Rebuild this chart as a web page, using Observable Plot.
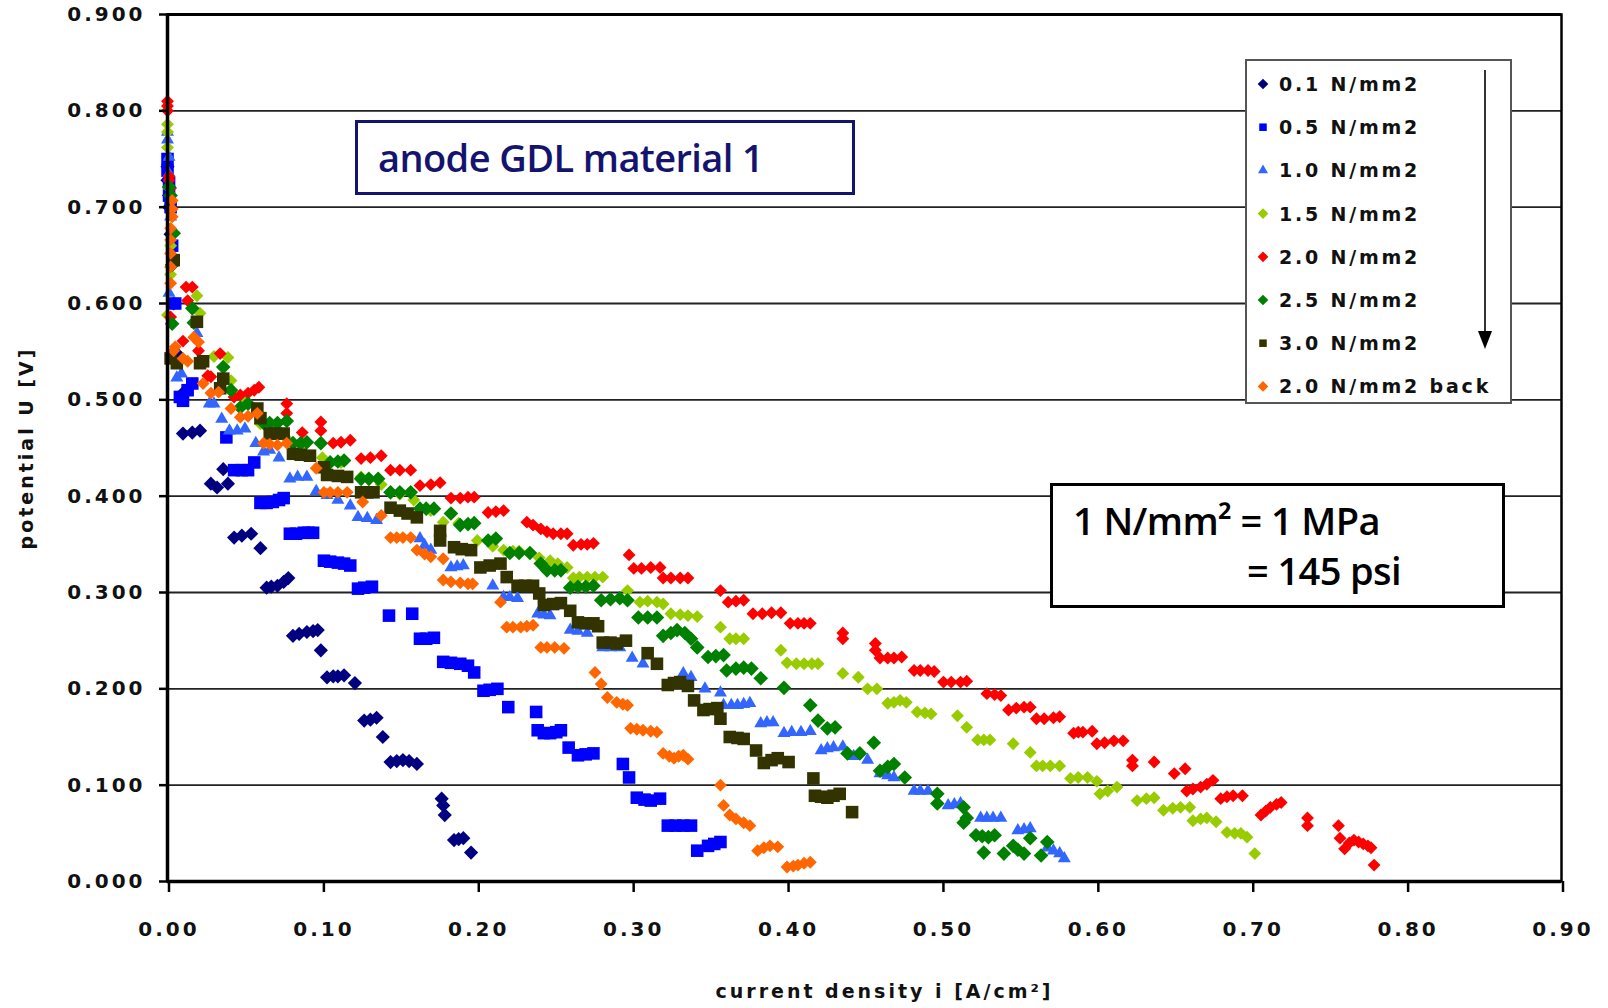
<!DOCTYPE html>
<html>
<head>
<meta charset="utf-8">
<script src="https://cdn.jsdelivr.net/npm/d3@7"></script>
<script src="https://cdn.jsdelivr.net/npm/@observablehq/plot@0.6"></script>
<style>
  html, body { margin: 0; padding: 0; background: #fff; }
  #wrap { position: relative; width: 1608px; height: 1008px; overflow: hidden; }
  #chart svg { display: block; }
  #chart g[aria-label="y-axis tick label"] text,
  #chart g[aria-label="x-axis tick label"] text {
    font-family: "DejaVu Sans", sans-serif; font-weight: bold; font-size: 20px; letter-spacing: 3px; fill: #111;
  }
  #chart .axtitle text { font-family: "DejaVu Sans", sans-serif; font-weight: bold; font-size: 19px; letter-spacing: 3px; fill: #111; }
  .box { position: absolute; box-sizing: border-box; background: #fff; }
  #titlebox { left: 355px; top: 120px; width: 500px; height: 75px; border: 3px solid #14146e; }
  #titlebox span { position: absolute; left: 20px; top: 12px; font-family: "Open Sans", sans-serif; font-weight: 600; font-size: 38px; line-height: 1.2; color: #14146e; white-space: nowrap; letter-spacing: -0.6px; }
  #unitbox { left: 1050px; top: 483px; width: 455px; height: 125px; border: 3px solid #000; }
  #unitbox span { position: absolute; font-family: "Open Sans", sans-serif; font-weight: 600; font-size: 38px; line-height: 1.2; color: #000; white-space: nowrap; letter-spacing: -0.6px; }
  #legend { left: 1245px; top: 59px; width: 267px; height: 345px; border: 2px solid #555; }
  #legend svg { position: absolute; left: -2px; top: -2px; }
  #legend text { font-family: "DejaVu Sans", sans-serif; font-weight: bold; font-size: 19px; letter-spacing: 2.8px; fill: #111; }
</style>
</head>
<body>
<div id="wrap">
  <div id="chart"></div>
  <div id="titlebox" class="box"><span>anode GDL material 1</span></div>
  <div id="unitbox" class="box"><span style="left:20px;top:12px">1 N/mm² = 1 MPa</span><span style="left:194px;top:62px">= 145 psi</span></div>
  <div id="legend" class="box"></div>
</div>
<script>
// ---- axis ticks ----
const xTicks = [0, 0.1, 0.2, 0.3, 0.4, 0.5, 0.6, 0.7, 0.8, 0.9];
const yTicks = [0, 0.1, 0.2, 0.3, 0.4, 0.5, 0.6, 0.7, 0.8, 0.9];

// ---- series (legend order) ----
const seriesNames = ["0.1 N/mm2", "0.5 N/mm2", "1.0 N/mm2", "1.5 N/mm2", "2.0 N/mm2", "2.5 N/mm2", "3.0 N/mm2", "2.0 N/mm2 back"];

// ---- values: [current density A/cm², potential V] ----
const p01 = [[0.000,0.742],[0.000,0.728],[0.001,0.712],[0.001,0.700],[0.002,0.672],[0.003,0.640],[0.004,0.600],[0.006,0.548],[0.010,0.507],[0.010,0.465],[0.016,0.466],[0.021,0.468],[0.028,0.413],[0.032,0.409],[0.036,0.428],[0.039,0.413],[0.043,0.357],[0.048,0.359],[0.054,0.361],[0.060,0.346],[0.064,0.305],[0.067,0.306],[0.071,0.307],[0.075,0.311],[0.078,0.315],[0.081,0.255],[0.085,0.257],[0.090,0.259],[0.094,0.260],[0.097,0.261],[0.099,0.240],[0.103,0.212],[0.107,0.213],[0.110,0.213],[0.114,0.214],[0.121,0.206],[0.127,0.167],[0.131,0.168],[0.135,0.170],[0.139,0.150],[0.144,0.124],[0.148,0.125],[0.152,0.126],[0.156,0.125],[0.161,0.122],[0.177,0.086],[0.178,0.079],[0.179,0.069],[0.185,0.043],[0.188,0.044],[0.191,0.045],[0.196,0.030]];
const p05 = [[0.000,0.750],[0.000,0.738],[0.001,0.725],[0.001,0.712],[0.002,0.700],[0.003,0.660],[0.005,0.600],[0.008,0.503],[0.010,0.499],[0.013,0.510],[0.016,0.517],[0.038,0.461],[0.043,0.427],[0.048,0.427],[0.052,0.427],[0.056,0.435],[0.060,0.393],[0.064,0.393],[0.068,0.394],[0.072,0.396],[0.075,0.398],[0.079,0.361],[0.083,0.361],[0.088,0.362],[0.091,0.362],[0.094,0.362],[0.101,0.333],[0.105,0.332],[0.110,0.331],[0.114,0.330],[0.118,0.328],[0.123,0.304],[0.127,0.305],[0.132,0.306],[0.143,0.276],[0.158,0.278],[0.163,0.252],[0.167,0.252],[0.172,0.253],[0.178,0.228],[0.183,0.227],[0.189,0.226],[0.194,0.224],[0.198,0.217],[0.204,0.198],[0.208,0.199],[0.213,0.200],[0.220,0.181],[0.238,0.176],[0.239,0.157],[0.243,0.154],[0.247,0.154],[0.251,0.155],[0.254,0.157],[0.259,0.139],[0.265,0.131],[0.270,0.132],[0.275,0.133],[0.294,0.122],[0.298,0.108],[0.303,0.087],[0.308,0.085],[0.312,0.084],[0.318,0.086],[0.323,0.058],[0.328,0.058],[0.333,0.058],[0.338,0.058],[0.342,0.032],[0.349,0.037],[0.353,0.039],[0.357,0.041]];
const p10 = [[0.000,0.778],[0.000,0.770],[0.001,0.752],[0.001,0.735],[0.002,0.715],[0.002,0.690],[0.001,0.611],[0.006,0.523],[0.009,0.527],[0.019,0.569],[0.027,0.496],[0.030,0.496],[0.035,0.480],[0.040,0.468],[0.045,0.468],[0.050,0.470],[0.057,0.455],[0.062,0.446],[0.066,0.448],[0.072,0.440],[0.079,0.418],[0.084,0.420],[0.090,0.420],[0.096,0.405],[0.103,0.401],[0.110,0.396],[0.118,0.390],[0.123,0.378],[0.129,0.377],[0.135,0.375],[0.163,0.356],[0.166,0.349],[0.170,0.344],[0.183,0.326],[0.187,0.327],[0.191,0.328],[0.210,0.307],[0.217,0.295],[0.221,0.295],[0.226,0.294],[0.239,0.278],[0.243,0.277],[0.247,0.276],[0.260,0.261],[0.265,0.260],[0.271,0.258],[0.281,0.243],[0.286,0.243],[0.292,0.243],[0.300,0.232],[0.307,0.226],[0.333,0.216],[0.338,0.212],[0.347,0.200],[0.357,0.196],[0.359,0.183],[0.364,0.183],[0.368,0.183],[0.372,0.184],[0.376,0.185],[0.383,0.164],[0.387,0.165],[0.391,0.165],[0.398,0.154],[0.403,0.155],[0.409,0.155],[0.415,0.156],[0.422,0.136],[0.426,0.138],[0.430,0.139],[0.436,0.140],[0.443,0.130],[0.452,0.126],[0.460,0.112],[0.465,0.110],[0.469,0.108],[0.482,0.094],[0.486,0.094],[0.491,0.094],[0.504,0.079],[0.508,0.080],[0.512,0.081],[0.525,0.066],[0.529,0.066],[0.533,0.066],[0.538,0.066],[0.549,0.053],[0.553,0.054],[0.557,0.055],[0.568,0.035],[0.572,0.032],[0.576,0.029],[0.579,0.024]];
const p15 = [[0.000,0.786],[0.000,0.778],[0.000,0.762],[0.001,0.720],[0.002,0.660],[0.002,0.630],[0.000,0.588],[0.019,0.608],[0.021,0.590],[0.030,0.545],[0.039,0.544],[0.041,0.520],[0.050,0.500],[0.060,0.475],[0.068,0.468],[0.078,0.458],[0.088,0.452],[0.100,0.440],[0.112,0.435],[0.125,0.420],[0.138,0.412],[0.150,0.402],[0.159,0.396],[0.170,0.385],[0.178,0.373],[0.188,0.372],[0.200,0.354],[0.210,0.348],[0.217,0.344],[0.223,0.343],[0.227,0.343],[0.240,0.336],[0.247,0.333],[0.252,0.330],[0.258,0.326],[0.262,0.315],[0.266,0.316],[0.271,0.316],[0.276,0.316],[0.281,0.316],[0.297,0.302],[0.305,0.290],[0.310,0.291],[0.316,0.290],[0.320,0.288],[0.325,0.278],[0.331,0.277],[0.336,0.276],[0.342,0.275],[0.357,0.264],[0.363,0.252],[0.367,0.252],[0.372,0.252],[0.396,0.240],[0.400,0.227],[0.406,0.226],[0.411,0.226],[0.416,0.226],[0.420,0.226],[0.436,0.216],[0.446,0.212],[0.452,0.200],[0.458,0.200],[0.465,0.185],[0.469,0.186],[0.473,0.188],[0.477,0.186],[0.484,0.176],[0.489,0.175],[0.493,0.174],[0.510,0.172],[0.516,0.160],[0.523,0.147],[0.527,0.147],[0.531,0.147],[0.546,0.143],[0.557,0.134],[0.561,0.120],[0.565,0.120],[0.570,0.120],[0.576,0.120],[0.583,0.107],[0.588,0.108],[0.594,0.108],[0.600,0.104],[0.602,0.091],[0.607,0.094],[0.613,0.098],[0.626,0.084],[0.632,0.086],[0.637,0.087],[0.643,0.074],[0.649,0.076],[0.654,0.077],[0.660,0.077],[0.662,0.063],[0.667,0.065],[0.671,0.066],[0.677,0.062],[0.684,0.051],[0.689,0.050],[0.693,0.050],[0.697,0.046],[0.702,0.029]];
const p20 = [[0.000,0.810],[0.000,0.805],[0.000,0.800],[0.001,0.732],[0.001,0.728],[0.002,0.720],[0.002,0.586],[0.010,0.561],[0.012,0.617],[0.013,0.603],[0.016,0.617],[0.020,0.551],[0.026,0.525],[0.028,0.524],[0.034,0.548],[0.043,0.503],[0.047,0.505],[0.052,0.507],[0.056,0.510],[0.059,0.513],[0.077,0.496],[0.077,0.486],[0.087,0.466],[0.099,0.477],[0.099,0.468],[0.107,0.455],[0.112,0.456],[0.118,0.458],[0.125,0.439],[0.131,0.440],[0.138,0.442],[0.144,0.427],[0.150,0.427],[0.157,0.427],[0.163,0.411],[0.170,0.412],[0.176,0.414],[0.183,0.398],[0.189,0.398],[0.194,0.399],[0.198,0.399],[0.207,0.383],[0.212,0.384],[0.217,0.385],[0.232,0.373],[0.236,0.370],[0.241,0.366],[0.245,0.363],[0.249,0.361],[0.254,0.361],[0.258,0.361],[0.262,0.349],[0.267,0.350],[0.271,0.350],[0.275,0.351],[0.298,0.339],[0.301,0.325],[0.306,0.325],[0.312,0.326],[0.318,0.326],[0.320,0.315],[0.325,0.315],[0.331,0.315],[0.336,0.315],[0.357,0.302],[0.362,0.290],[0.367,0.291],[0.372,0.292],[0.378,0.278],[0.384,0.278],[0.390,0.279],[0.396,0.279],[0.402,0.268],[0.407,0.268],[0.411,0.268],[0.415,0.268],[0.436,0.258],[0.436,0.252],[0.457,0.247],[0.457,0.240],[0.460,0.232],[0.465,0.232],[0.469,0.232],[0.474,0.233],[0.482,0.219],[0.486,0.219],[0.491,0.219],[0.495,0.218],[0.501,0.207],[0.506,0.207],[0.512,0.207],[0.516,0.208],[0.529,0.195],[0.534,0.194],[0.538,0.193],[0.543,0.178],[0.548,0.180],[0.553,0.181],[0.557,0.181],[0.561,0.169],[0.566,0.169],[0.572,0.170],[0.576,0.171],[0.585,0.154],[0.588,0.155],[0.591,0.155],[0.597,0.156],[0.600,0.143],[0.605,0.144],[0.611,0.146],[0.617,0.146],[0.623,0.126],[0.623,0.120],[0.637,0.124],[0.650,0.112],[0.657,0.117],[0.658,0.094],[0.662,0.096],[0.667,0.098],[0.671,0.101],[0.675,0.105],[0.680,0.086],[0.684,0.088],[0.688,0.089],[0.694,0.089],[0.706,0.069],[0.709,0.073],[0.712,0.077],[0.716,0.080],[0.719,0.082],[0.736,0.066],[0.736,0.058],[0.756,0.058],[0.757,0.045],[0.760,0.034],[0.763,0.040],[0.766,0.043],[0.769,0.041],[0.772,0.039],[0.775,0.037],[0.777,0.035],[0.779,0.017]];
const p25 = [[0.001,0.721],[0.002,0.712],[0.004,0.673],[0.003,0.640],[0.003,0.579],[0.016,0.595],[0.017,0.580],[0.036,0.534],[0.041,0.510],[0.047,0.492],[0.052,0.496],[0.062,0.476],[0.066,0.476],[0.071,0.476],[0.077,0.478],[0.081,0.455],[0.086,0.455],[0.090,0.456],[0.099,0.455],[0.105,0.435],[0.110,0.436],[0.114,0.437],[0.125,0.418],[0.130,0.418],[0.136,0.418],[0.144,0.404],[0.150,0.404],[0.157,0.404],[0.163,0.387],[0.167,0.387],[0.172,0.387],[0.183,0.382],[0.189,0.370],[0.194,0.371],[0.198,0.372],[0.207,0.354],[0.212,0.356],[0.221,0.341],[0.227,0.341],[0.234,0.341],[0.241,0.330],[0.245,0.323],[0.250,0.323],[0.254,0.323],[0.260,0.305],[0.265,0.306],[0.270,0.306],[0.275,0.307],[0.280,0.292],[0.286,0.293],[0.292,0.294],[0.297,0.292],[0.304,0.274],[0.310,0.274],[0.316,0.274],[0.320,0.255],[0.325,0.258],[0.329,0.261],[0.334,0.258],[0.338,0.252],[0.342,0.243],[0.349,0.233],[0.354,0.234],[0.359,0.235],[0.361,0.219],[0.367,0.221],[0.372,0.222],[0.377,0.221],[0.383,0.211],[0.398,0.201],[0.415,0.183],[0.420,0.167],[0.426,0.159],[0.431,0.160],[0.439,0.133],[0.447,0.133],[0.456,0.144],[0.460,0.115],[0.465,0.119],[0.469,0.122],[0.476,0.108],[0.497,0.091],[0.497,0.081],[0.514,0.077],[0.516,0.066],[0.514,0.061],[0.522,0.048],[0.526,0.047],[0.530,0.046],[0.534,0.048],[0.527,0.030],[0.540,0.029],[0.546,0.037],[0.549,0.033],[0.553,0.029],[0.557,0.045],[0.564,0.027],[0.568,0.041]];
const p30 = [[0.004,0.645],[0.002,0.543],[0.006,0.538],[0.019,0.581],[0.021,0.538],[0.023,0.540],[0.034,0.512],[0.036,0.522],[0.058,0.491],[0.060,0.481],[0.066,0.465],[0.070,0.465],[0.075,0.465],[0.081,0.444],[0.086,0.443],[0.092,0.442],[0.101,0.430],[0.103,0.422],[0.110,0.421],[0.116,0.420],[0.125,0.404],[0.129,0.404],[0.133,0.404],[0.144,0.388],[0.150,0.385],[0.155,0.382],[0.161,0.378],[0.176,0.364],[0.176,0.354],[0.185,0.347],[0.190,0.345],[0.196,0.344],[0.202,0.326],[0.208,0.328],[0.215,0.330],[0.219,0.316],[0.226,0.307],[0.231,0.307],[0.236,0.307],[0.240,0.299],[0.243,0.287],[0.249,0.288],[0.254,0.289],[0.260,0.281],[0.265,0.269],[0.270,0.268],[0.275,0.268],[0.278,0.265],[0.281,0.248],[0.286,0.248],[0.290,0.247],[0.296,0.250],[0.310,0.237],[0.316,0.226],[0.323,0.204],[0.327,0.206],[0.331,0.207],[0.336,0.203],[0.340,0.188],[0.346,0.178],[0.350,0.179],[0.355,0.180],[0.357,0.169],[0.363,0.150],[0.368,0.149],[0.372,0.148],[0.380,0.136],[0.385,0.123],[0.390,0.126],[0.394,0.128],[0.401,0.124],[0.417,0.107],[0.418,0.089],[0.422,0.088],[0.426,0.087],[0.430,0.089],[0.434,0.091],[0.442,0.072]];
const p20b = [[0.003,0.707],[0.003,0.698],[0.003,0.690],[0.002,0.678],[0.002,0.666],[0.002,0.652],[0.002,0.638],[0.002,0.621],[0.004,0.551],[0.005,0.555],[0.010,0.543],[0.013,0.540],[0.017,0.565],[0.020,0.560],[0.023,0.517],[0.028,0.507],[0.033,0.508],[0.041,0.491],[0.047,0.482],[0.052,0.483],[0.058,0.486],[0.062,0.455],[0.066,0.454],[0.071,0.453],[0.077,0.455],[0.096,0.429],[0.101,0.404],[0.105,0.404],[0.110,0.404],[0.116,0.404],[0.126,0.394],[0.138,0.380],[0.144,0.357],[0.148,0.357],[0.152,0.357],[0.157,0.357],[0.161,0.344],[0.166,0.340],[0.170,0.337],[0.178,0.335],[0.178,0.313],[0.183,0.311],[0.189,0.310],[0.194,0.309],[0.197,0.309],[0.215,0.290],[0.219,0.264],[0.223,0.264],[0.228,0.264],[0.232,0.265],[0.236,0.266],[0.241,0.243],[0.245,0.243],[0.250,0.243],[0.256,0.242],[0.276,0.217],[0.280,0.205],[0.284,0.191],[0.290,0.186],[0.294,0.184],[0.297,0.183],[0.299,0.159],[0.303,0.158],[0.307,0.157],[0.312,0.156],[0.316,0.155],[0.320,0.133],[0.324,0.130],[0.327,0.128],[0.330,0.130],[0.333,0.131],[0.336,0.127],[0.357,0.100],[0.359,0.079],[0.363,0.069],[0.367,0.065],[0.372,0.061],[0.376,0.058],[0.381,0.032],[0.385,0.035],[0.389,0.037],[0.394,0.036],[0.400,0.015],[0.404,0.016],[0.407,0.017],[0.411,0.019],[0.415,0.020]];

const seriesData = [p01, p05, p10, p15, p20, p25, p30, p20b];

// ---- styling (separate from data) ----
const seriesColors = ["#000080", "#0000ff", "#3366ff", "#99cc00", "#ff0000", "#008000", "#333300", "#ff6600"];
const seriesSymbols = ["diamond2", "square2", "triangle2", "diamond2", "diamond2", "diamond2", "square2", "diamond2"];
const seriesR = [6.4, 8.0, 6.2, 5.8, 5.8, 6.6, 8.0, 5.8];

const dotMarks = seriesData.map((pts, i) =>
  Plot.dot(pts, {x: d => d[0], y: d => d[1], fill: seriesColors[i], symbol: seriesSymbols[i], r: seriesR[i], stroke: "none"})
);

const chart = Plot.plot({
  width: 1608,
  height: 1008,
  marginLeft: 167,
  marginRight: 47,
  marginTop: 14,
  marginBottom: 127,
  style: {fontFamily: "DejaVu Sans, sans-serif", background: "#fff", overflow: "visible"},
  x: {domain: [0, 0.9]},
  y: {domain: [0, 0.9]},
  marks: [
    Plot.ruleY(yTicks.slice(1, -1), {stroke: "#222", strokeWidth: 1.8}),
    Plot.frame({stroke: "#000", strokeWidth: 2.5}),
    ...dotMarks,
    Plot.ruleY([0], {stroke: "#000", strokeWidth: 3.5}),
    Plot.ruleX([0], {stroke: "#000", strokeWidth: 3.5}),
    Plot.ruleY([0.9], {stroke: "#000", strokeWidth: 3}),
    Plot.axisX({ticks: xTicks, tickSize: 11, tickPadding: 29, dx: 1.5, tickFormat: d3.format(".2f"), strokeWidth: 2.5, label: null}),
    Plot.axisY({ticks: yTicks, tickSize: 8, tickPadding: 14, dx: 0, tickFormat: d3.format(".3f"), strokeWidth: 2.5, label: null}),
    Plot.text(["potential U [V]"], {frameAnchor: "left", dx: -141, rotate: -90, textAnchor: "middle", className: "axtitle"}),
    Plot.text(["current density i [A/cm²]"], {frameAnchor: "bottom", dy: 116, dx: 20, textAnchor: "middle", className: "axtitle"})
  ]
});
document.getElementById("chart").appendChild(chart);

// ---- legend ----
const leg = d3.select("#legend").append("svg").attr("width", 267).attr("height", 345);
const symMap = {diamond2: d3.symbolDiamond2, square2: d3.symbolSquare2, triangle2: d3.symbolTriangle2};
seriesNames.forEach((name, i) => {
  const cy = 25 + i * 43.2;
  leg.append("path")
    .attr("transform", `translate(18,${cy})`)
    .attr("d", d3.symbol(symMap[seriesSymbols[i]], Math.PI * 4.8 * 4.8)())
    .attr("fill", seriesColors[i]);
  leg.append("text").attr("x", 34).attr("y", cy + 7).text(name);
});
leg.append("line").attr("x1", 240).attr("x2", 240).attr("y1", 11).attr("y2", 278).attr("stroke", "#000").attr("stroke-width", 1.6);
leg.append("path").attr("d", "M233,272 L247,272 L240,290 Z").attr("fill", "#000");
</script>
</body>
</html>
